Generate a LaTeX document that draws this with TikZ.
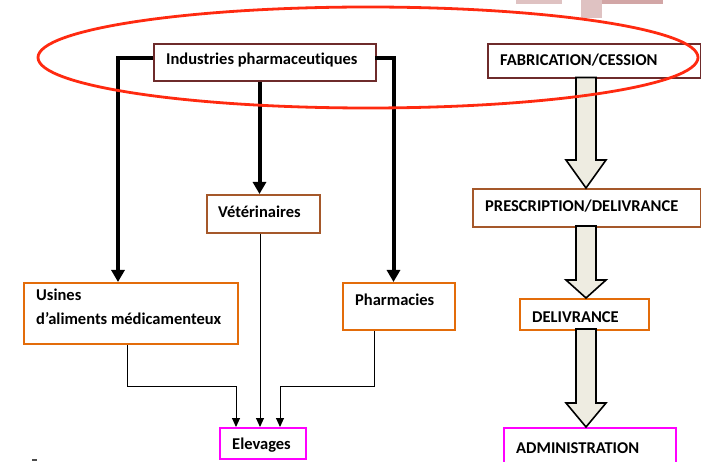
\documentclass[tikz,border=0pt]{standalone}
\usepackage{fontspec}
\setmainfont{Carlito}[RawFeature=-liga]
\usetikzlibrary{arrows.meta}
\definecolor{maroonb}{HTML}{6E2B2B}
\definecolor{brownb}{HTML}{A5582A}
\definecolor{orangeb}{HTML}{E36C0A}
\definecolor{magb}{HTML}{FF00FF}
\definecolor{blockfill}{HTML}{EEECE1}
\definecolor{ellred}{HTML}{FF2A10}
\definecolor{pinkA}{HTML}{DFC2C2}
\definecolor{pinkB}{HTML}{D2A6A6}
\tikzset{
  box/.style={draw, line width=2pt, rectangle, inner sep=0pt, anchor=north west},
  lbl/.style={anchor=west, inner sep=0pt, font=\fontsize{16.5}{24}\selectfont\bfseries, align=left},
  thick arrow/.style={line width=4pt, -{Triangle[width=13pt,length=12pt]}},
  thin arrow/.style={line width=1pt, -{Triangle[width=8pt,length=9pt]}},
  blockarrow/.style={draw=black, line width=1.6pt, fill=blockfill, line join=miter},
}
\begin{document}
\begin{tikzpicture}[x=1pt,y=-1pt]
\useasboundingbox (0,0) rectangle (701,462);
% faded shapes at top
\fill[pinkA] (516,0) rectangle (562,4);
\fill[pinkA] (581,0) rectangle (602,18);
\fill[pinkB] (602,0) rectangle (663,4);
\fill[black!70] (32,458.5) rectangle (37,461);

% boxes
\node[box, draw=maroonb, minimum width=222pt, minimum height=37pt] (ind) at (153,43) {};
\node[box, draw=maroonb, minimum width=213pt, minimum height=34pt] (fab) at (487,43) {};
\node[box, draw=brownb, minimum width=113pt, minimum height=38pt] (vet) at (206,194) {};
\node[box, draw=orangeb, minimum width=214pt, minimum height=61pt] (usi) at (23,282) {};
\node[box, draw=orangeb, minimum width=112pt, minimum height=47pt] (pha) at (342,282) {};
\node[box, draw=brownb, minimum width=228pt, minimum height=38pt] (pre) at (472,188) {};
\node[box, draw=orangeb, minimum width=129pt, minimum height=31pt] (del) at (519,298) {};
\node[box, draw=magb, minimum width=172pt, minimum height=36pt] (adm) at (503,427) {};
\node[box, draw=magb, minimum width=86pt, minimum height=31pt] (ele) at (219,427) {};

% texts
\node[lbl] (indT) at (166,60) {Industries pharmaceutiques};
\node[lbl] (fabT) at (500,60) {FABRICATION/CESSION};
\node[lbl] (vetT) at (218,212) {Vétérinaires};
\node[lbl, anchor=north west] (usiT) at (36,289) {Usines\\d’aliments médicamenteux};
\node[lbl] (phaT) at (355,300) {Pharmacies};
\node[lbl] (preT) at (485,206) {PRESCRIPTION/DELIVRANCE};
\node[lbl] (delT) at (532,317) {DELIVRANCE};
\node[lbl] (admT) at (516,448) {ADMINISTRATION};
\node[lbl] (eleT) at (232,445) {Elevages};

% thick connectors
\coordinate (indL) at (153,58.3);
\coordinate (indR) at (375,58.3);
\draw[thick arrow] (indL) -| (usi.north west -| 118,0);
\draw[thick arrow] (indR) -| (pha.north west -| 393.5,0);
\draw[thick arrow] (ind.south west -| 259.5,0) -- (vet.north west -| 259.5,0);

% thin connectors
\draw[thin arrow] (usi.south west -| 127,0) |- (236,386) -- (ele.north west -| 236,0);
\draw[thin arrow] (vet.south west -| 260,0) -- (ele.north west -| 260,0);
\draw[thin arrow] (pha.south west -| 374,0) |- (280,386) -- (ele.north west -| 280,0);

% block arrows
\draw[blockarrow] (576,77.5) -- (596,77.5) -- (596,160) -- (606,160) -- (586,188) -- (566,160) -- (576,160) -- cycle;
\draw[blockarrow] (576,226) -- (596,226) -- (596,280) -- (606,280) -- (586,298) -- (566,280) -- (576,280) -- cycle;
\draw[blockarrow] (576,329) -- (596,329) -- (596,403) -- (606,403) -- (586,427) -- (566,403) -- (576,403) -- cycle;

% red ellipse
\draw[ellred, line width=2.8pt] (368,57.5) ellipse [x radius=330, y radius=50.5];
\end{tikzpicture}
\end{document}
